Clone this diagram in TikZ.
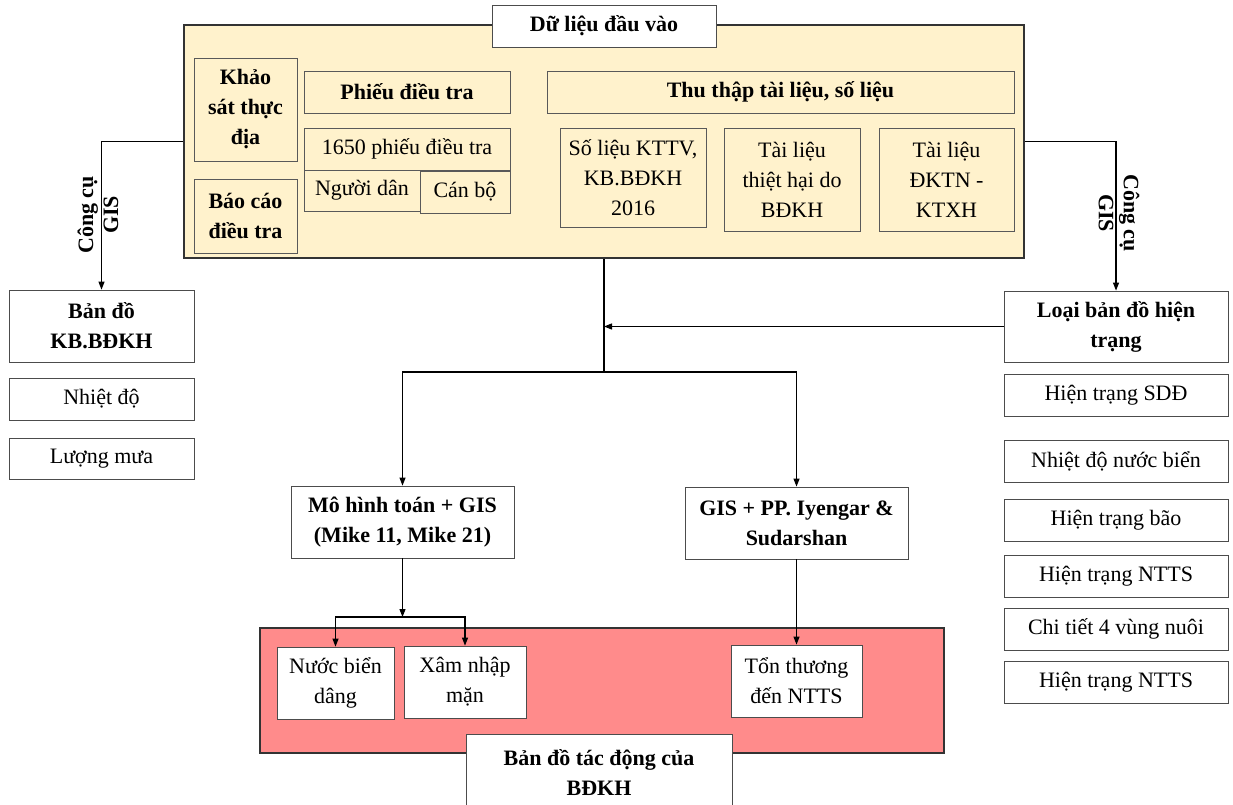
\documentclass[tikz,border=0pt]{standalone}
\usepackage{fontspec}
\setmainfont{Liberation Serif}
\usetikzlibrary{arrows.meta}
\definecolor{cream}{HTML}{FFF2CC}
\definecolor{salmon}{HTML}{FF8B8B}
\begin{document}
\begin{tikzpicture}[x=1pt, y=-1pt, >={Triangle[length=8pt,width=6pt]},
    every node/.style={font=\fontsize{22}{30}\selectfont, align=center, inner sep=2pt},
    hd/.style={font=\fontsize{22}{30}\selectfont\bfseries},
    box/.style={draw=black!70, fill=white, line width=0.8pt},
    ybox/.style={draw=black!65, fill=cream, line width=0.8pt},
    link/.style={line width=1.1pt}]
        \useasboundingbox (0,0) rectangle (1233,805);
        \clip (0,0) rectangle (1233,805);

        % input data
        \node[draw=black!80, fill=cream, line width=2pt, minimum width=840pt, minimum height=233pt] at (604,141.5) (main) {};
        \node[box, hd, minimum width=224pt, minimum height=42pt] at (604,26) (title) {Dữ liệu đầu vào};

        \node[ybox, hd, minimum width=103pt, minimum height=103pt] at (245.5,109.5) (khao) {Khảo\\sát thực\\địa};
        \node[ybox, hd, minimum width=103pt, minimum height=74pt] at (245.5,216) (baocao) {Báo cáo\\điều tra};

        \node[ybox, hd, minimum width=206pt, minimum height=42pt] at (407,92) (phieu) {Phiếu điều tra};
        \node[ybox, minimum width=206pt, minimum height=42pt] at (407,149) (sophieu) {1650 phiếu điều tra};
        \node[ybox, minimum width=116pt, minimum height=41pt] at (362,190.5) (nguoidan) {Người dân};
        \node[ybox, minimum width=90pt, minimum height=42pt] at (465,192) (canbo) {Cán bộ};

        \node[ybox, hd, minimum width=467pt, minimum height=42pt] at (780.5,92) (thuthap) {Thu thập tài liệu, số liệu};
        \node[ybox, minimum width=146pt, minimum height=99pt] at (633,177.5) (kttv) {Số liệu KTTV,\\KB.BĐKH\\2016};
        \node[ybox, minimum width=136pt, minimum height=103pt] at (792,179.5) (thiethai) {Tài liệu\\thiệt hại do\\BĐKH};
        \node[ybox, minimum width=135pt, minimum height=103pt] at (946.5,179.5) (dktn) {Tài liệu\\ĐKTN -\\KTXH};

        % left column
        \node[box, hd, minimum width=185pt, minimum height=72pt] at (101.5,326) (kbmap) {Bản đồ\\KB.BĐKH};
        \node[box, minimum width=185pt, minimum height=42pt] at (101.5,399) (nhietdo) {Nhiệt độ};
        \node[box, minimum width=185pt, minimum height=41pt] at (101.5,458.5) (luongmua) {Lượng mưa};

        % right column
        \node[box, hd, minimum width=224pt, minimum height=71pt] at (1116,326.5) (loai) {Loại bản đồ hiện\\trạng};
        \node[box, minimum width=224pt, minimum height=42pt] at (1116,395) (sdd) {Hiện trạng SDĐ};
        \node[box, minimum width=224pt, minimum height=42pt] at (1116,461) (nuocbien) {Nhiệt độ nước biển};
        \node[box, minimum width=224pt, minimum height=42pt] at (1116,520) (bao) {Hiện trạng bão};
        \node[box, minimum width=224pt, minimum height=42pt] at (1116,576) (nttsa) {Hiện trạng NTTS};
        \node[box, minimum width=224pt, minimum height=42pt] at (1116,629) (chitiet) {Chi tiết 4 vùng nuôi};
        \node[box, minimum width=224pt, minimum height=42pt] at (1116,682) (nttsb) {Hiện trạng NTTS};

        % methods
        \node[box, hd, minimum width=223pt, minimum height=72pt] at (402.5,522) (mohinh) {Mô hình toán + GIS\\(Mike 11, Mike 21)};
        \node[box, hd, minimum width=223pt, minimum height=72pt] at (796.5,523) (gispp) {GIS + PP. Iyengar \&\\Sudarshan};

        % impact maps
        \node[draw=black!80, fill=salmon, line width=1.5pt, minimum width=684pt, minimum height=125pt] at (602,690.5) (impact) {};
        \node[box, minimum width=117pt, minimum height=72pt] at (335.5,683) (nuoc) {Nước biển\\dâng};
        \node[box, minimum width=122pt, minimum height=72pt] at (465,682) (xam) {Xâm nhập\\mặn};
        \node[box, minimum width=131pt, minimum height=72pt] at (796.5,681) (tonthuong) {Tổn thương\\đến NTTS};
        \node[box, hd, minimum width=266pt, minimum height=78pt] at (599,773) (bando) {Bản đồ tác động của\\BĐKH};

        \coordinate (split) at (604,372);
        \coordinate (fork) at (402.5,617);

        \draw[link, ->] (main.west) -| (kbmap.north);
        \draw[link, ->] (main.east) -| (loai.north);
        \node[rotate=90, font=\fontsize{22}{25}\selectfont\bfseries] at (98,215) (gisl) {Công cụ\\GIS};
        \node[rotate=-90, font=\fontsize{22}{25}\selectfont\bfseries] at (1119,213) (gisr) {Công cụ\\GIS};

        \draw[link]     (main.south) -- (split);
        \draw[link, ->] (split) -| (mohinh.north);
        \draw[link, ->] (split) -| (gispp.north);
        \draw[link, ->] (loai.west) -- (loai.west -| split);

        \draw[link, ->] (mohinh.south) -- (fork);
        \draw[link, ->] (fork) -| (nuoc.north);
        \draw[link, ->] (fork) -| (xam.north);
        \draw[link, ->] (gispp.south) -- (tonthuong.north);
      \end{tikzpicture}
\end{document}
